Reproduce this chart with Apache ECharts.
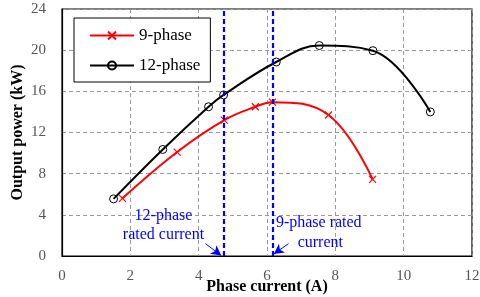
<!DOCTYPE html>
<html><head><meta charset="utf-8">
<script src="https://cdn.jsdelivr.net/npm/echarts@6/dist/echarts.min.js"></script>
<style>html,body{margin:0;padding:0;background:#fff}#c{width:480px;height:297px}</style>
</head><body><div id="c"></div>
<script>
const xTicks = [0, 2, 4, 6, 8, 10, 12];
const yTicks = [0, 4, 8, 12, 16, 20, 24];
const phase9 = [[1.77, 5.6], [3.37, 10.1], [4.75, 13.2], [5.66, 14.5], [6.16, 14.95], [7.8, 13.7], [9.09, 7.45]];
const phase12 = [[1.51, 5.55], [2.95, 10.35], [4.29, 14.5], [4.73, 15.65], [6.27, 18.85], [7.53, 20.45], [9.1, 19.95], [10.78, 14.0]];
const rated12 = 4.73;
const rated9 = 6.16;

const F = 'Liberation Serif, Times New Roman, serif';
const chart = echarts.init(document.getElementById('c'));
chart.setOption({
  animation: false,
  grid: {left: 62, right: 8, top: 9, bottom: 41, show: true, borderColor: '#000', borderWidth: 1.2, outerBoundsMode: 'none', containLabel: false},
  legend: {
    left: 74, top: 18, width: 133, height: 63,
    orient: 'vertical', itemGap: 13, padding: [9, 10, 8, 15],
    borderColor: '#000', borderWidth: 1, backgroundColor: '#fff',
    itemWidth: 44, itemHeight: 10,
    textStyle: {fontFamily: F, fontSize: 17, color: '#000'},
    data: ['9-phase', '12-phase']
  },
  xAxis: {
    type: 'value', min: 0, max: 12, interval: 2,
    name: 'Phase current (A)', nameLocation: 'middle', nameGap: 23, nameMoveOverlap: false,
    nameTextStyle: {fontFamily: F, fontSize: 16, fontWeight: 'bold', color: '#000'},
    axisLine: {lineStyle: {color: '#000', width: 1.2}},
    axisTick: {show: false},
    axisLabel: {fontFamily: F, fontSize: 15, color: '#555', margin: 13, formatter: v => xTicks.includes(v) ? String(v) : ''},
    splitLine: {lineStyle: {color: '#999', type: [4, 3], width: 1}}
  },
  yAxis: {
    type: 'value', min: 0, max: 24, interval: 4,
    name: 'Output power (kW)', nameLocation: 'middle', nameGap: 36, nameMoveOverlap: false,
    nameTextStyle: {fontFamily: F, fontSize: 16, fontWeight: 'bold', color: '#000'},
    axisLine: {show: true, lineStyle: {color: '#000', width: 1.2}},
    axisTick: {show: false},
    axisLabel: {fontFamily: F, fontSize: 15, color: '#555', margin: 16, formatter: v => yTicks.includes(v) ? String(v) : ''},
    splitLine: {lineStyle: {color: '#999', type: [4, 3], width: 1}}
  },
  series: [
    {
      name: '9-phase', type: 'line', data: phase9, smooth: 0.4, smoothConstraint: false,
      symbol: 'path://M0,0L10,10M10,0L0,10', symbolSize: 7,
      lineStyle: {color: '#ff0000', width: 2},
      itemStyle: {color: '#fff', borderColor: '#ff0000', borderWidth: 1.2},
      z: 3
    },
    {
      name: '12-phase', type: 'line', data: phase12, smooth: 0.4, smoothConstraint: false,
      symbol: 'circle', symbolSize: 8,
      lineStyle: {color: '#000', width: 2},
      itemStyle: {color: 'transparent', borderColor: '#000', borderWidth: 1},
      z: 3
    },
    {
      name: 'rated', type: 'line', data: [], z: 4,
      markLine: {
        silent: true, symbol: ['none', 'none'],
        label: {show: false},
        lineStyle: {color: '#0000ff', type: [5, 3], width: 2.2},
        data: [{xAxis: rated12}, {xAxis: rated9}]
      }
    },
    {
      name: 'arrows', type: 'line', data: [], z: 5,
      markLine: {
        silent: true, symbol: ['none', 'arrow'], symbolSize: [8, 10],
        label: {show: false},
        lineStyle: {color: '#0000ff', type: 'solid', width: 1},
        data: [
          [{coord: [4.2, 1.2]}, {coord: [4.66, 0.05]}],
          [{coord: [6.63, 1.2]}, {coord: [6.2, 0.2]}]
        ]
      },
      markPoint: {
        silent: true, symbol: 'circle', symbolSize: 0,
        label: {show: true, fontFamily: F, fontSize: 16, color: '#0000ff', lineHeight: 19},
        data: [
          {coord: [2.97, 3.0], label: {formatter: '12-phase\nrated current', align: 'center', verticalAlign: 'middle'}},
          {coord: [6.26, 3.2], label: {formatter: '9-phase rated', align: 'left', verticalAlign: 'middle'}},
          {coord: [7.56, 1.3], label: {formatter: 'current', align: 'center', verticalAlign: 'middle'}}
        ]
      }
    }
  ]
});
</script></body></html>
